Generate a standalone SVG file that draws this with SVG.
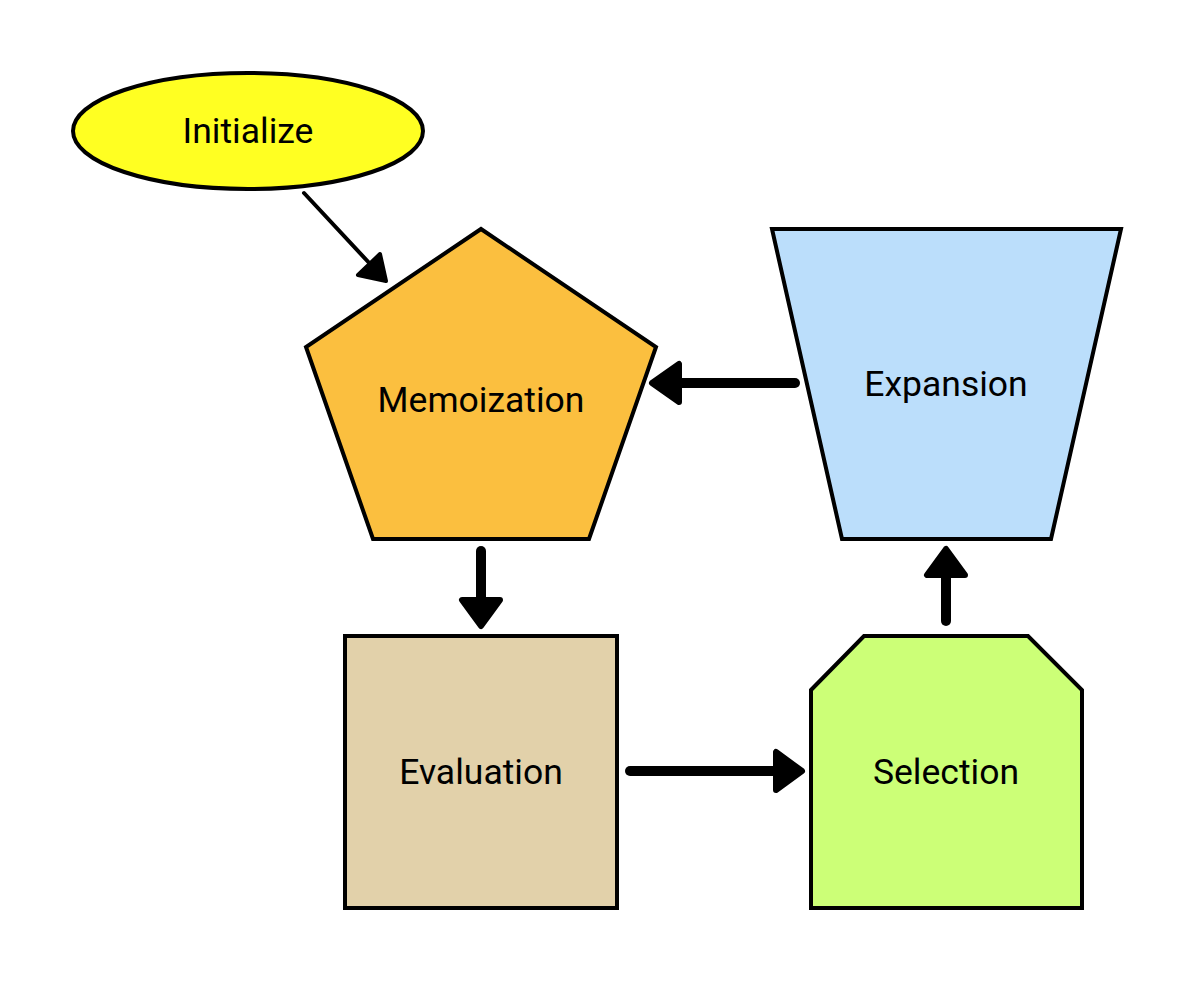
<svg xmlns="http://www.w3.org/2000/svg" width="1195" height="981" viewBox="0 0 1195 981">
<style>
.shape{stroke:#000;stroke-width:4;stroke-linejoin:miter}
.lbl{font-family:Roboto,"Liberation Sans",sans-serif;font-size:35.5px;fill:#000;text-anchor:middle;dominant-baseline:central}
.ln{stroke:#000;stroke-linecap:round;fill:none}
.hd{fill:#000;stroke:#000;stroke-linejoin:round}
</style>
<rect width="1195" height="981" fill="#fff"/>
<g id="connectors">
<line class="ln" x1="304" y1="193" x2="372" y2="266" stroke-width="4"/>
<polygon class="hd" points="380,254 358,275 386,281" stroke-width="4"/>
<line class="ln" x1="795" y1="383" x2="672" y2="383" stroke-width="10"/>
<polygon class="hd" points="652,383 679,364 679,402" stroke-width="6"/>
<line class="ln" x1="481" y1="551" x2="481" y2="605" stroke-width="10"/>
<polygon class="hd" points="462,600 500,600 481,626" stroke-width="6"/>
<line class="ln" x1="630" y1="771" x2="785" y2="771" stroke-width="10"/>
<polygon class="hd" points="776,752 776,790 802,771" stroke-width="6"/>
<line class="ln" x1="946" y1="621" x2="946" y2="570" stroke-width="10"/>
<polygon class="hd" points="927,575 965,575 946,549" stroke-width="6"/>
</g>
<g id="initialize">
<ellipse class="shape" cx="248" cy="131" rx="175" ry="58" fill="#ffff22"/>
<text class="lbl" x="248" y="131">Initialize</text>
</g>
<g id="memoization">
<polygon class="shape" points="481,229 656,347 589,539 373,539 306,347" fill="#fbbf3f"/>
<text class="lbl" x="481" y="400">Memoization</text>
</g>
<g id="expansion">
<polygon class="shape" points="772,229 1121,229 1051,539 842,539" fill="#bbdefb"/>
<text class="lbl" x="946" y="384">Expansion</text>
</g>
<g id="evaluation">
<rect class="shape" x="345" y="636" width="272" height="272" fill="#e2d1aa"/>
<text class="lbl" x="481" y="772">Evaluation</text>
</g>
<g id="selection">
<polygon class="shape" points="811,690 864,636 1028,636 1082,690 1082,908 811,908" fill="#ccff77"/>
<text class="lbl" x="946" y="772">Selection</text>
</g>
</svg>
